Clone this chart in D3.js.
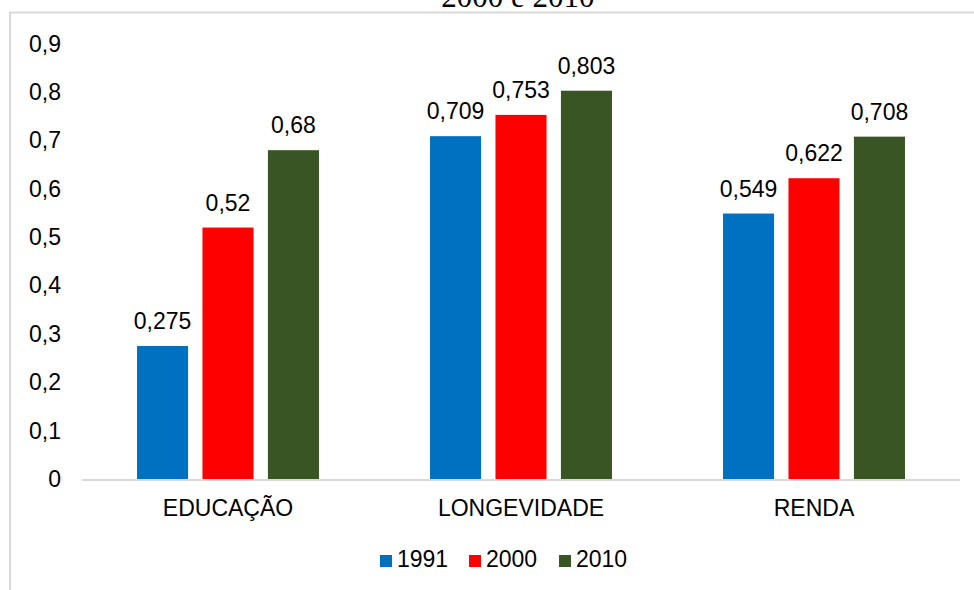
<!DOCTYPE html>
<html>
<head>
<meta charset="utf-8">
<script src="https://cdn.jsdelivr.net/npm/d3@7/dist/d3.min.js"></script>
<style>
  html, body { margin: 0; padding: 0; background: #fff; }
  svg { display: block; }
  text { font-family: "Liberation Sans", Arial, sans-serif; fill: #000; }
</style>
</head>
<body>
<svg id="chart" width="974" height="590"></svg>
<script>
// IDH components by year
const categories = ["EDUCAÇÃO", "LONGEVIDADE", "RENDA"];
const years = ["1991", "2000", "2010"];
const values1991 = [0.275, 0.709, 0.549];
const values2000 = [0.52, 0.753, 0.622];
const values2010 = [0.68, 0.803, 0.708];
const yTicks = [0, 0.1, 0.2, 0.3, 0.4, 0.5, 0.6, 0.7, 0.8, 0.9];
const colors = ["#0070C0", "#FF0000", "#3A5524"];
const titleText = "2000 e 2010";

const seriesValues = [values1991, values2000, values2010];

const svg = d3.select("#chart");
const fmt = v => String(v).replace(".", ",");

// frame of the chart area
svg.append("rect")
  .attr("x", 10).attr("y", 12.5)
  .attr("width", 1000).attr("height", 620)
  .attr("fill", "none")
  .attr("stroke", "#d9d9d9")
  .attr("stroke-width", 2);

// title, partly above the visible area
svg.append("text")
  .attr("x", 518).attr("y", 7)
  .attr("text-anchor", "middle")
  .style("font-family", "'Liberation Serif', 'Times New Roman', serif")
  .style("font-size", "31px")
  .text(titleText);

const y = d3.scaleLinear().domain([0, 0.9]).range([479, 43.8]);
const x0 = d3.scaleBand().domain(categories).range([81.5, 960.5])
  .paddingInner(0.379).paddingOuter(0.1895);
const x1 = d3.scaleBand().domain(years).range([0, x0.bandwidth()]).paddingInner(0.22);

// y axis labels
const yAxis = d3.axisLeft(y).tickValues(yTicks).tickFormat(fmt).tickSize(0).tickPadding(0);
const yg = svg.append("g").attr("transform", "translate(61,0)").call(yAxis);
yg.select(".domain").remove();
yg.selectAll("text")
  .style("font-family", "'Liberation Sans', Arial, sans-serif")
  .style("font-size", "23px")
  .attr("fill", "#000");

// bars
const groups = svg.append("g").selectAll("g")
  .data(categories)
  .join("g")
  .attr("transform", c => `translate(${x0(c)},0)`);

groups.selectAll("rect")
  .data((c, ci) => years.map((yr, si) => ({ yr, si, v: seriesValues[si][ci] })))
  .join("rect")
  .attr("x", d => x1(d.yr))
  .attr("y", d => y(d.v))
  .attr("width", x1.bandwidth())
  .attr("height", d => y(0) - y(d.v))
  .attr("fill", d => colors[d.si]);

groups.selectAll("text.val")
  .data((c, ci) => years.map((yr, si) => ({ yr, si, v: seriesValues[si][ci] })))
  .join("text")
  .attr("class", "val")
  .attr("x", d => x1(d.yr) + x1.bandwidth() / 2)
  .attr("y", d => y(d.v) - 17)
  .attr("text-anchor", "middle")
  .style("font-size", "23px")
  .text(d => fmt(d.v));

// baseline and category labels
const xAxis = d3.axisBottom(x0).tickSize(0).tickPadding(0);
const xg = svg.append("g").attr("transform", `translate(0,${y(0)})`).call(xAxis);
xg.select(".domain").attr("stroke", "#d9d9d9").attr("stroke-width", 2)
  .attr("d", "M82,1H960");
xg.selectAll("text")
  .attr("dy", null)
  .attr("y", 37)
  .style("font-family", "'Liberation Sans', Arial, sans-serif")
  .style("font-size", "23px")
  .attr("fill", "#000");

// legend
const legendX = [380, 469, 559];
const legend = svg.append("g").selectAll("g")
  .data(years)
  .join("g")
  .attr("transform", (d, i) => `translate(${legendX[i]},0)`);
legend.append("rect")
  .attr("x", 0).attr("y", 555)
  .attr("width", 12).attr("height", 12)
  .attr("fill", (d, i) => colors[i]);
legend.append("text")
  .attr("x", 17).attr("y", 567)
  .style("font-size", "23px")
  .text(d => d);
</script>
</body>
</html>
